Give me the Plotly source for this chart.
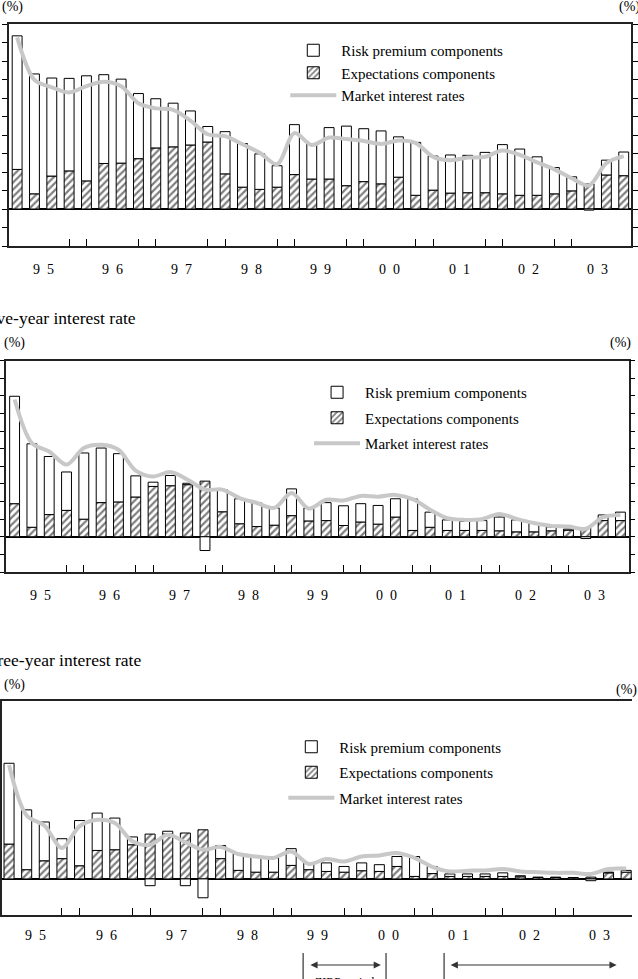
import plotly.graph_objects as go

W, H = 638, 979

quarters = list(range(36))
year_labels = ["9\u20025", "9\u20026", "9\u20027", "9\u20028", "9\u20029",
               "0\u20020", "0\u20021", "0\u20022", "0\u20023"]
year_centers = [1.5 + 4 * k for k in range(9)]
tick_positions = [v for k in range(8) for v in (4 * k + 3, 4 * k + 4)]

# Ten-year interest rate (top panel)
exp10 = [1.07, 0.41, 0.89, 1.03, 0.76, 1.23, 1.24, 1.36, 1.65, 1.68, 1.73, 1.81,
         0.95, 0.59, 0.53, 0.59, 0.93, 0.81, 0.81, 0.63, 0.74, 0.68, 0.86, 0.37,
         0.51, 0.43, 0.44, 0.44, 0.41, 0.37, 0.37, 0.41, 0.49, 0.68, 0.92, 0.90]
risk10 = [3.61, 3.24, 2.65, 2.50, 2.84, 2.40, 2.27, 1.76, 1.33, 1.18, 0.92, 0.42,
          1.14, 1.18, 0.96, 0.58, 1.35, 0.95, 1.39, 1.61, 1.43, 1.43, 1.09, 1.43,
          0.92, 1.03, 1.01, 1.09, 1.33, 1.25, 1.04, 0.71, 0.38, -0.03, 0.40, 0.64]
mkt10 = [4.64, 3.49, 3.29, 3.15, 3.32, 3.44, 3.32, 2.86, 2.72, 2.68, 2.39, 2.02,
         1.97, 1.75, 1.52, 1.21, 2.05, 1.73, 1.93, 1.89, 1.84, 1.76, 1.85, 1.78,
         1.41, 1.32, 1.39, 1.41, 1.58, 1.46, 1.26, 1.07, 0.83, 0.64, 1.24, 1.43]

# Five-year interest rate (middle panel)
exp5 = [0.94, 0.27, 0.63, 0.75, 0.50, 0.97, 0.99, 1.13, 1.43, 1.45, 1.48, 1.58,
        0.71, 0.37, 0.29, 0.33, 0.60, 0.45, 0.46, 0.32, 0.42, 0.36, 0.56, 0.18,
        0.27, 0.18, 0.18, 0.18, 0.17, 0.14, 0.14, 0.17, 0.19, 0.25, 0.46, 0.46]
risk5 = [3.05, 2.37, 1.65, 1.09, 1.88, 1.55, 1.37, 0.60, 0.12, 0.29, 0.04, -0.39,
         0.63, 0.71, 0.67, 0.49, 0.76, 0.37, 0.51, 0.56, 0.52, 0.53, 0.52, 0.89,
         0.43, 0.30, 0.26, 0.28, 0.39, 0.34, 0.25, 0.11, 0.03, -0.05, 0.16, 0.24]
mkt5 = [3.90, 2.66, 2.42, 2.05, 2.52, 2.61, 2.47, 1.88, 1.71, 1.84, 1.62, 1.34,
        1.34, 1.10, 0.96, 0.82, 1.24, 0.80, 1.05, 1.03, 1.16, 1.14, 1.19, 1.07,
        0.77, 0.53, 0.48, 0.50, 0.65, 0.51, 0.39, 0.31, 0.29, 0.23, 0.56, 0.62]

# Three-year interest rate (bottom panel)
exp3 = [0.98, 0.26, 0.51, 0.57, 0.37, 0.80, 0.82, 0.96, 1.26, 1.26, 1.29, 1.38,
        0.57, 0.24, 0.19, 0.19, 0.38, 0.26, 0.21, 0.19, 0.23, 0.21, 0.35, 0.07,
        0.15, 0.07, 0.07, 0.07, 0.07, 0.06, 0.04, 0.04, 0.03, 0.05, 0.17, 0.19]
risk3 = [2.27, 1.68, 1.09, 0.56, 1.27, 1.05, 0.89, 0.22, -0.19, 0.08, -0.19, -0.53,
         0.37, 0.47, 0.43, 0.40, 0.47, 0.19, 0.24, 0.16, 0.22, 0.19, 0.28, 0.56,
         0.20, 0.07, 0.07, 0.07, 0.10, 0.03, 0.01, 0.01, 0.01, -0.05, 0.02, 0.05]
mkt3 = [3.20, 1.78, 1.50, 0.87, 1.48, 1.66, 1.57, 1.06, 0.96, 1.24, 1.03, 0.82,
        0.90, 0.70, 0.63, 0.59, 0.77, 0.42, 0.56, 0.49, 0.63, 0.66, 0.73, 0.59,
        0.34, 0.21, 0.23, 0.24, 0.28, 0.21, 0.19, 0.17, 0.17, 0.14, 0.28, 0.29]

panels = [
    dict(exp=exp10, risk=risk10, mkt=mkt10, xa="x", ya="y", leg="legend"),
    dict(exp=exp5, risk=risk5, mkt=mkt5, xa="x2", ya="y2", leg="legend2"),
    dict(exp=exp3, risk=risk3, mkt=mkt3, xa="x3", ya="y3", leg="legend3"),
]

FONT = "Liberation Serif"
fig = go.Figure()
for p in panels:
    fig.add_trace(go.Bar(
        x=quarters, y=p["exp"], name="Expectations components",
        xaxis=p["xa"], yaxis=p["ya"], legend=p["leg"], legendrank=2,
        legendgroup="e" + p["leg"],
        marker=dict(color="white", line=dict(color="black", width=1),
                    pattern=dict(shape="/", fgcolor="black", bgcolor="white",
                                 size=5, solidity=0.45)),
        width=0.57))
    fig.add_trace(go.Bar(
        x=quarters, y=p["risk"], name="Risk premium components",
        xaxis=p["xa"], yaxis=p["ya"], legend=p["leg"], legendrank=1,
        legendgroup="r" + p["leg"],
        marker=dict(color="white", line=dict(color="black", width=1)),
        width=0.57))
    fig.add_trace(go.Scatter(
        x=quarters, y=p["mkt"], name="Market interest rates", mode="lines",
        xaxis=p["xa"], yaxis=p["ya"], legend=p["leg"], legendrank=3,
        legendgroup="m" + p["leg"],
        line=dict(color="#c8c8c8", width=4, shape="spline", smoothing=0.9)))


def py(px):
    return 1 - px / H


def pxx(px):
    return px / W


xcommon = dict(tickvals=tick_positions, ticks="inside", ticklen=7, tickcolor="black",
               showticklabels=False, showgrid=False, zeroline=False,
               showline=True, linecolor="#222", linewidth=1.5, mirror=True)
ycommon = dict(range=[-1, 5], tickvals=[i * 0.5 for i in range(-2, 11)],
               ticklen=5, tickcolor="black", showticklabels=False,
               showgrid=False, zeroline=True, zerolinecolor="black", zerolinewidth=1.5,
               showline=True, linecolor="#222", linewidth=1.5)

legcommon = dict(font=dict(family=FONT, size=15, color="black"), bgcolor="rgba(0,0,0,0)",
                 xanchor="left", yanchor="top", itemwidth=46,
                 itemclick=False, itemdoubleclick=False)

fig.update_layout(
    width=W, height=H, margin=dict(l=0, r=0, t=0, b=0),
    paper_bgcolor="white", plot_bgcolor="white",
    barmode="relative", bargap=0.43,
    font=dict(family=FONT, color="black"),
    xaxis=dict(domain=[pxx(9), pxx(637)], range=[-0.474, 35.42], anchor="y", **xcommon),
    yaxis=dict(domain=[py(246), py(24)], anchor="x", mirror="ticks", ticks="outside",
               **ycommon),
    xaxis2=dict(domain=[pxx(6), pxx(634.7)], range=[-0.5, 35.48], anchor="y2", **xcommon),
    yaxis2=dict(domain=[py(572), py(360.7)], anchor="x2", mirror="ticks", ticks="outside",
                **ycommon),
    xaxis3=dict(domain=[pxx(2), 1], range=[-0.4, 35.33], anchor="y3", **xcommon),
    yaxis3=dict(domain=[py(914.5), py(701)], anchor="x3", mirror=False, ticks="",
                **ycommon),
    legend=dict(x=pxx(288), y=py(34), traceorder="normal", **legcommon),
    legend2=dict(x=pxx(312), y=py(376), traceorder="grouped", tracegroupgap=3, **legcommon),
    legend3=dict(x=pxx(286), y=py(730.5), traceorder="grouped", tracegroupgap=3, **legcommon),
    showlegend=True,
)

ann = []
label_rows = [("x", 269), ("x2", 595), ("x3", 935)]
for xa, ypx in label_rows:
    for c, t in zip(year_centers, year_labels):
        ann.append(dict(x=c, y=py(ypx), xref=xa, yref="paper", text=t, showarrow=False,
                        xanchor="center", yanchor="middle",
                        font=dict(family=FONT, size=14, color="black")))

pct = [(0, 7), (623, 7), (2, 343), (614, 343), (2, 685), (620, 690)]
for xp, yp in pct:
    ann.append(dict(x=pxx(xp), y=py(yp), xref="paper", yref="paper", text="(%)",
                    showarrow=False, xanchor="left", yanchor="middle",
                    font=dict(family=FONT, size=14, color="black")))

titles = [(-20, 318, "Five-year interest rate"), (-24.5, 660, "Three-year interest rate")]
for xp, yp, t in titles:
    ann.append(dict(x=pxx(xp), y=py(yp), xref="paper", yref="paper", text=t,
                    showarrow=False, xanchor="left", yanchor="middle",
                    font=dict(family=FONT, size=17.5, color="black")))

# Policy period brackets under the bottom panel
arrows = [(312.5, 384.5), (455, 622.5)]
for x0, x1 in arrows:
    ann.append(dict(x=pxx(x1), y=py(965), xref="paper", yref="paper", text="",
                    ax=-(x1 - x0), ay=0, showarrow=True, arrowside="end+start",
                    arrowhead=2, startarrowhead=2, arrowsize=1.2, startarrowsize=1.2,
                    arrowwidth=1.2, arrowcolor="#333"))
ann.append(dict(x=pxx(348), y=py(973), xref="paper", yref="paper", text="ZIRP period",
                showarrow=False, xanchor="center", yanchor="top",
                font=dict(family=FONT, size=12, color="black")))
fig.update_layout(annotations=ann)

shapes = []
for xv in (306, 389.7, 448.3):
    shapes.append(dict(type="line", xref="paper", yref="paper", x0=pxx(xv), x1=pxx(xv),
                       y0=py(953), y1=py(979), line=dict(color="#333", width=1.2)))
fig.update_layout(shapes=shapes)

fig.write_html("out.html")
